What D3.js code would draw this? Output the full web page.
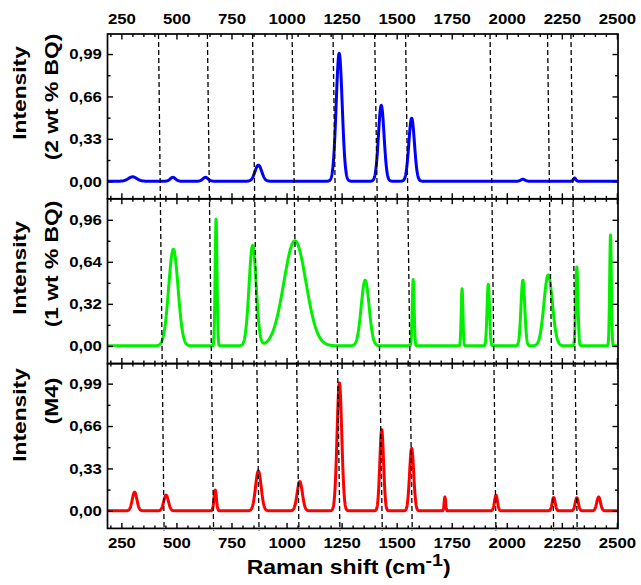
<!DOCTYPE html>
<html>
<head>
<meta charset="utf-8">
<script src="https://cdn.jsdelivr.net/npm/d3@7"></script>
<style>
  body { margin: 0; background: #fff; }
  text { font-family: "Liberation Sans", Arial, sans-serif; font-weight: bold; fill: #000; }
</style>
</head>
<body>
<svg width="641" height="585"></svg>
<script>
// x axis
var xTickLabels = [250, 500, 750, 1000, 1250, 1500, 1750, 2000, 2250, 2500];
var xDomain = [187, 2505];

// Raman bands: centre (cm-1), height, full width at half max (cm-1)
var blueCenters = [301, 484, 632, 872, 1239, 1430, 1568, 2073, 2308];
var blueHeights = [0.034, 0.03, 0.03, 0.125, 0.995, 0.59, 0.49, 0.015, 0.025];
var blueWidths  = [45, 28, 28, 36, 32, 30, 30, 22, 12];

var greenCenters = [486, 680, 846, 1038, 1357, 1575, 1797, 1916, 2073, 2188, 2318, 2471];
var greenHeights = [0.735, 0.965, 0.765, 0.80, 0.50, 0.505, 0.435, 0.47, 0.50, 0.54, 0.60, 0.845];
var greenWidths  = [50, 10, 38, 118, 42, 10, 9, 13, 20, 45, 12, 9];

var redCenters = [310, 453, 676, 872, 1060, 1240, 1432, 1568, 1719, 1951, 2213, 2318, 2417];
var redHeights = [0.145, 0.122, 0.162, 0.31, 0.228, 0.995, 0.632, 0.487, 0.108, 0.121, 0.104, 0.102, 0.108];
var redWidths  = [25, 25, 13, 30, 28, 25, 20, 22, 8, 16, 16, 17, 20];

// y ticks per panel
var yTicksTop = [0, 0.33, 0.66, 0.99];
var yTicksMid = [0, 0.32, 0.64, 0.96];
var yTicksBot = [0, 0.33, 0.66, 0.99];

var panelTitles = [["Intensity", "(2 wt % BQ)"], ["Intensity", "(1 wt % BQ)"], ["Intensity", "(M4)"]];

// dashed guide lines (slightly slanted): position at top and at bottom of the figure
var dashTop    = [418.6, 640.5, 845.6, 1025.2, 1210.9, 1400.2, 1540.5, 1924, 2185, 2291.3];
var dashBottom = [444, 668.7, 875, 1056.3, 1242.2, 1434.7, 1570.7, 1950.7, 2212.7, 2319.5];

var svg = d3.select("svg");
var plotL = 107.5, plotR = 618, plotT = 34, ph = 164.8;

var x = d3.scaleLinear().domain(xDomain).range([plotL, plotR]);

var panels = [
  { color: "#0000ff", c: blueCenters, h: blueHeights, w: blueWidths, ticks: yTicksTop, dom: [-0.137, 1.146],
    title: panelTitles[0], ty: [93, 97] },
  { color: "#00f000", c: greenCenters, h: greenHeights, w: greenWidths, ticks: yTicksMid, dom: [-0.135, 1.12],
    title: panelTitles[1], ty: [268, 264] },
  { color: "#ff0000", c: redCenters, h: redHeights, w: redWidths, ticks: yTicksBot, dom: [-0.137, 1.146],
    title: panelTitles[2], ty: [415, 401] }
];

function spectrum(c, h, w) {
  return d3.range(xDomain[0], xDomain[1] + 0.5, 1).map(function (v) {
    var s = 0;
    c.forEach(function (cc, i) {
      var sg = w[i] / 2.3548;
      s += h[i] * Math.exp(-0.5 * Math.pow((v - cc) / sg, 2));
    });
    return [v, s];
  });
}

var fmt = function (d) { return d3.format(".2f")(d).replace(".", ","); };
var tickFont = 15, tickStretch = 1.12;

function styleAxis(g, labels) {
  g.select(".domain").remove();
  g.selectAll("line").attr("stroke", "#000").attr("stroke-width", 1.4);
  g.selectAll("text")
    .attr("font-size", tickFont)
    .attr("font-family", '"Liberation Sans", Arial, sans-serif')
    .attr("font-weight", "bold")
    .attr("transform", "scale(" + tickStretch + ",1)");
  if (!labels) g.selectAll("text").remove();
}

var xMinor = d3.range(200, 2501, 50).filter(function (d) { return d % 250 !== 0; });

panels.forEach(function (p, i) {
  var y0 = plotT + i * ph, y1 = y0 + ph;
  var y = d3.scaleLinear().domain(p.dom).range([y1, y0]);
  var step = p.ticks[1] - p.ticks[0];
  var yMinor = p.ticks.map(function (t) { return t + step / 2; }).filter(function (t) { return y(t) > y0 + 2; });

  // curve
  var line = d3.line().x(function (d) { return x(d[0]); }).y(function (d) { return y(d[1]); });
  svg.append("path")
    .datum(spectrum(p.c, p.h, p.w))
    .attr("d", line)
    .attr("fill", "none")
    .attr("stroke", p.color)
    .attr("stroke-width", 3)
    .attr("stroke-linejoin", "round");

  // y axes (ticks inside)
  svg.append("g").attr("transform", "translate(" + plotL + ",0)")
    .call(d3.axisLeft(y).tickValues(p.ticks).tickSize(-5.5).tickPadding(5).tickFormat(fmt))
    .call(styleAxis, true);
  svg.append("g").attr("transform", "translate(" + plotL + ",0)")
    .call(d3.axisLeft(y).tickValues(yMinor).tickSize(-3).tickFormat(""))
    .call(styleAxis, false);
  svg.append("g").attr("transform", "translate(" + plotR + ",0)")
    .call(d3.axisRight(y).tickValues(p.ticks).tickSize(-5.5).tickFormat(""))
    .call(styleAxis, false);
  svg.append("g").attr("transform", "translate(" + plotR + ",0)")
    .call(d3.axisRight(y).tickValues(yMinor).tickSize(-3).tickFormat(""))
    .call(styleAxis, false);

  // x ticks top and bottom of each panel (inside)
  svg.append("g").attr("transform", "translate(0," + y0 + ")")
    .call(d3.axisTop(x).tickValues(xTickLabels).tickSize(-5.5).tickPadding(10.5).tickFormat(d3.format("d")))
    .call(styleAxis, i === 0);
  svg.append("g").attr("transform", "translate(0," + y0 + ")")
    .call(d3.axisTop(x).tickValues(xMinor).tickSize(-3).tickFormat(""))
    .call(styleAxis, false);
  svg.append("g").attr("transform", "translate(0," + y1 + ")")
    .call(d3.axisBottom(x).tickValues(xTickLabels).tickSize(-5.5).tickPadding(8.5).tickFormat(d3.format("d")))
    .call(styleAxis, i === 2);
  svg.append("g").attr("transform", "translate(0," + y1 + ")")
    .call(d3.axisBottom(x).tickValues(xMinor).tickSize(-3).tickFormat(""))
    .call(styleAxis, false);

  // frame
  svg.append("rect")
    .attr("x", plotL).attr("y", y0)
    .attr("width", plotR - plotL).attr("height", ph)
    .attr("fill", "none").attr("stroke", "#000").attr("stroke-width", 1.7);

  // y title, two lines
  var bx = [26, 57.5];
  p.title.forEach(function (t, k) {
    svg.append("text")
      .attr("transform", "translate(" + bx[k] + "," + p.ty[k] + ") rotate(-90) scale(1.2,1)")
      .attr("text-anchor", "middle")
      .attr("font-size", 19)
      .text(t);
  });
});

// dashed guide lines on top of the curves
var yTopLine = plotT, yBotLine = plotT + 3 * ph + 2;
svg.append("g").selectAll("line")
  .data(dashTop)
  .join("line")
  .attr("x1", function (d) { return x(d); })
  .attr("y1", yTopLine)
  .attr("x2", function (d, i) { return x(dashBottom[i]); })
  .attr("y2", yBotLine)
  .attr("stroke", "#000")
  .attr("stroke-width", 1.3)
  .attr("stroke-dasharray", "5,3");

// x title
var xt = svg.append("text")
  .attr("transform", "translate(246.7,574) scale(1.15,1)")
  .attr("font-size", 20);
xt.append("tspan").text("Raman shift (cm");
xt.append("tspan").attr("font-size", 17).attr("dy", -8).text("-1");
xt.append("tspan").attr("dy", 8).text(")");
</script>
</body>
</html>
